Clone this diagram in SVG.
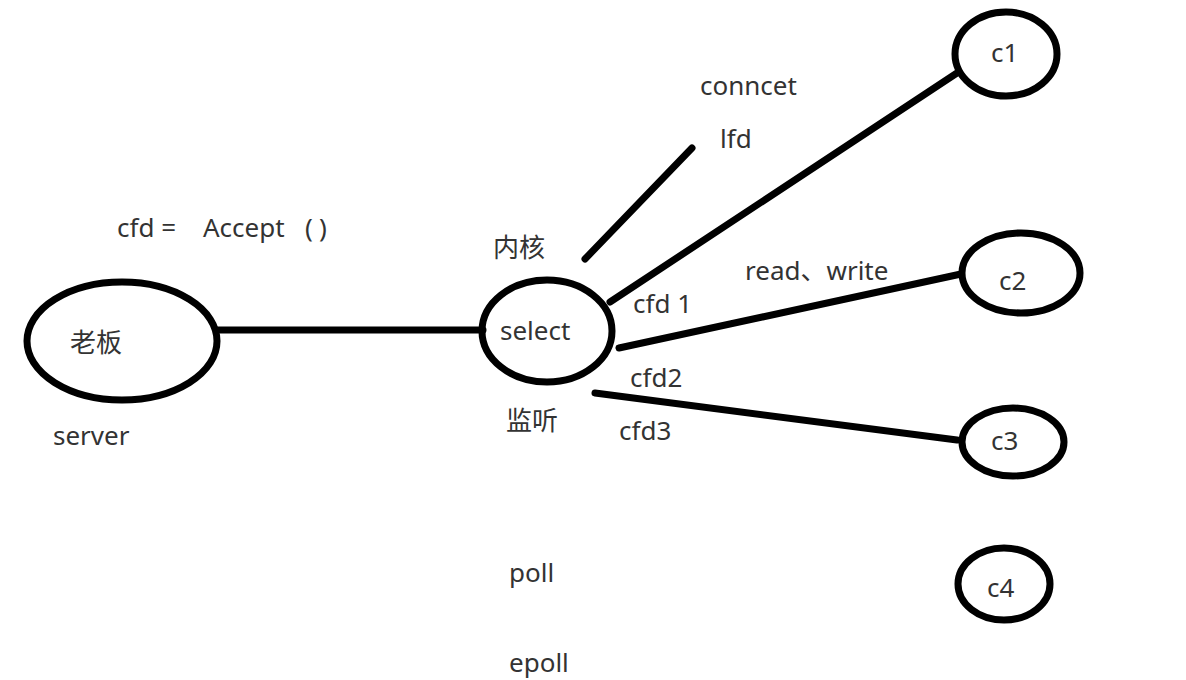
<svg xmlns="http://www.w3.org/2000/svg" width="1186" height="680" viewBox="0 0 1186 680">
<style>
.n{fill:none;stroke:#000;stroke-width:7}
.e{stroke:#000;stroke-width:7;stroke-linecap:round;fill:none}
text{font-family:"Noto Sans","Noto Sans CJK SC",sans-serif;font-size:26px;fill:#333;white-space:pre}
</style>
<rect width="1186" height="680" fill="#fff"/>
<g id="connectors">
<line class="e" x1="217" y1="330" x2="483" y2="330"/>
<line class="e" x1="585" y1="259" x2="692" y2="148"/>
<line class="e" x1="610" y1="302" x2="957" y2="73"/>
<line class="e" x1="619" y1="348" x2="961" y2="274"/>
<line class="e" x1="595" y1="393" x2="957" y2="440"/>
</g>
<g id="server">
<ellipse class="n" cx="122" cy="341" rx="95" ry="59"/>
<text x="70" y="352">老板</text>
<text x="53" y="445">server</text>
</g>
<text y="237" xml:space="preserve"><tspan x="117">cfd =</tspan><tspan x="203">Accept</tspan><tspan x="305">(</tspan><tspan x="319">)</tspan></text>
<g id="select">
<ellipse class="n" cx="547" cy="331" rx="65" ry="51"/>
<text x="500" y="340">select</text>
<text x="493" y="257">内核</text>
<text x="506" y="430">监听</text>
</g>
<text x="700" y="95">conncet</text>
<text x="720" y="148">lfd</text>
<text x="745" y="280">read、write</text>
<text x="633" y="313" xml:space="preserve">cfd 1</text>
<text x="630" y="387">cfd2</text>
<text x="619" y="440">cfd3</text>
<text x="509" y="582">poll</text>
<text x="509" y="672">epoll</text>
<g id="c1">
<ellipse class="n" cx="1006" cy="54" rx="51" ry="42"/>
<text x="991" y="62">c1</text>
</g>
<g id="c2">
<ellipse class="n" cx="1021" cy="273" rx="59" ry="40"/>
<text x="999" y="290">c2</text>
</g>
<g id="c3">
<ellipse class="n" cx="1013" cy="442" rx="51" ry="34"/>
<text x="991" y="450">c3</text>
</g>
<g id="c4">
<ellipse class="n" cx="1004" cy="584" rx="46" ry="36"/>
<text x="987" y="597">c4</text>
</g>
</svg>
